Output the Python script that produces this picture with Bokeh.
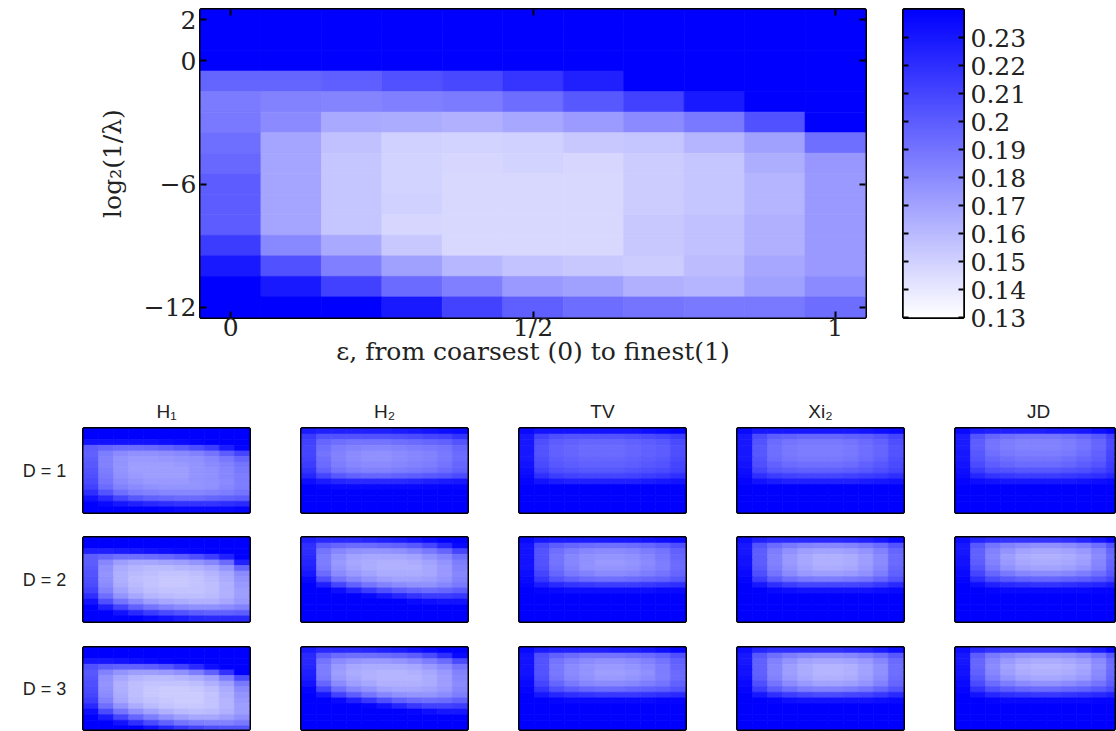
import numpy as np
from bokeh.plotting import figure
from bokeh.layouts import row, column
from bokeh.models import (LinearColorMapper, FixedTicker, Spacer, LinearAxis,
                          ColumnDataSource, Range1d, NumeralTickFormatter)
from bokeh.transform import transform
from bokeh.embed import file_html
from bokeh.resources import INLINE
from bokeh.core.properties import value

# ---------------- data ----------------
eps = [0.0, 0.1, 0.2, 0.3, 0.4, 0.5, 0.6, 0.7, 0.8, 0.9, 1.0]
log_inv_lambda = [2, 1, 0, -1, -2, -3, -4, -5, -6, -7, -8, -9, -10, -11, -12]
x_ticks = [0, 0.5, 1]
x_tick_labels = {0: "0", 0.5: "1/2", 1: "1"}
y_ticks = [2, 0, -6, -12]
cb_ticks = [0.13, 0.14, 0.15, 0.16, 0.17, 0.18, 0.19, 0.2, 0.21, 0.22, 0.23]

# main heat map, rows from log2(1/lambda)=2 (top) down to -12
main_vals = [
    [0.250, 0.250, 0.250, 0.250, 0.250, 0.250, 0.250, 0.250, 0.250, 0.250, 0.250],
    [0.250, 0.250, 0.250, 0.250, 0.250, 0.250, 0.250, 0.250, 0.250, 0.250, 0.250],
    [0.245, 0.245, 0.245, 0.245, 0.245, 0.245, 0.245, 0.245, 0.245, 0.245, 0.245],
    [0.197, 0.197, 0.199, 0.205, 0.209, 0.217, 0.226, 0.242, 0.244, 0.245, 0.245],
    [0.187, 0.184, 0.183, 0.185, 0.187, 0.193, 0.202, 0.212, 0.229, 0.242, 0.244],
    [0.188, 0.180, 0.167, 0.166, 0.164, 0.168, 0.173, 0.180, 0.188, 0.205, 0.241],
    [0.192, 0.169, 0.157, 0.150, 0.149, 0.150, 0.154, 0.155, 0.162, 0.171, 0.192],
    [0.195, 0.169, 0.155, 0.149, 0.148, 0.149, 0.148, 0.152, 0.155, 0.165, 0.175],
    [0.200, 0.169, 0.155, 0.149, 0.147, 0.147, 0.147, 0.152, 0.155, 0.162, 0.174],
    [0.200, 0.169, 0.155, 0.150, 0.147, 0.147, 0.147, 0.152, 0.155, 0.162, 0.174],
    [0.200, 0.169, 0.155, 0.148, 0.147, 0.147, 0.147, 0.154, 0.157, 0.164, 0.174],
    [0.214, 0.181, 0.167, 0.154, 0.147, 0.147, 0.147, 0.154, 0.157, 0.164, 0.174],
    [0.229, 0.205, 0.185, 0.171, 0.161, 0.156, 0.154, 0.152, 0.159, 0.168, 0.174],
    [0.241, 0.229, 0.212, 0.194, 0.185, 0.174, 0.171, 0.164, 0.162, 0.171, 0.180],
    [0.246, 0.243, 0.240, 0.229, 0.211, 0.199, 0.193, 0.190, 0.188, 0.188, 0.193],
]

measures = ["H₁", "H₂", "TV", "Xi₂", "JD"]
dims = ["D = 1", "D = 2", "D = 3"]

# small multiples, values x1000, rows top (2) to bottom (-12)
H1_D1 = [
    [240, 240, 240, 240, 240, 240, 240, 240, 240, 240, 240],
    [240, 240, 240, 240, 240, 240, 240, 240, 240, 240, 240],
    [232, 232, 232, 232, 232, 234, 236, 238, 240, 240, 240],
    [200, 196, 194, 194, 195, 198, 202, 208, 214, 228, 238],
    [198, 186, 180, 178, 178, 179, 181, 184, 190, 200, 210],
    [200, 184, 176, 174, 174, 175, 176, 178, 182, 188, 196],
    [202, 184, 176, 172, 172, 172, 174, 176, 180, 184, 190],
    [204, 186, 176, 172, 172, 172, 172, 176, 178, 182, 188],
    [206, 188, 178, 174, 172, 172, 172, 176, 178, 182, 186],
    [208, 190, 180, 176, 174, 174, 174, 176, 178, 180, 186],
    [212, 194, 184, 180, 178, 176, 176, 176, 178, 182, 186],
    [220, 204, 192, 186, 184, 182, 182, 182, 184, 186, 190],
    [232, 222, 210, 202, 198, 196, 194, 194, 196, 198, 200],
    [240, 236, 230, 226, 222, 220, 218, 218, 218, 220, 222],
    [240, 240, 240, 240, 240, 238, 236, 236, 236, 236, 238],
]
H2_D1 = [
    [228, 226, 226, 226, 226, 226, 228, 230, 232, 234, 236],
    [215, 205, 205, 205, 205, 205, 206, 208, 210, 212, 218],
    [212, 196, 192, 190, 190, 190, 192, 194, 196, 198, 204],
    [210, 192, 186, 184, 182, 182, 184, 186, 188, 190, 196],
    [210, 190, 184, 180, 178, 178, 180, 182, 184, 188, 194],
    [212, 192, 184, 180, 178, 178, 180, 182, 184, 188, 194],
    [214, 194, 186, 182, 180, 180, 182, 184, 186, 190, 196],
    [218, 198, 190, 186, 184, 184, 186, 188, 190, 194, 198],
    [224, 210, 202, 198, 196, 196, 198, 200, 202, 204, 208],
    [234, 228, 224, 222, 222, 222, 222, 224, 226, 228, 230],
    [240, 238, 236, 236, 236, 236, 236, 236, 237, 238, 238],
    [240, 240, 240, 240, 240, 240, 240, 240, 240, 240, 240],
    [240, 240, 240, 240, 240, 240, 240, 240, 240, 240, 240],
    [240, 240, 240, 240, 240, 240, 240, 240, 240, 240, 240],
    [240, 240, 240, 240, 240, 240, 240, 240, 240, 240, 240],
]
TV_D1 = [
    [236, 232, 232, 232, 232, 232, 232, 232, 234, 236, 238],
    [230, 212, 206, 204, 204, 204, 204, 206, 208, 210, 214],
    [230, 206, 200, 198, 196, 196, 196, 198, 200, 202, 208],
    [230, 204, 198, 196, 194, 194, 194, 196, 198, 200, 206],
    [230, 204, 198, 196, 194, 194, 194, 196, 198, 200, 206],
    [230, 206, 200, 198, 196, 196, 196, 198, 200, 202, 208],
    [232, 208, 202, 200, 198, 198, 198, 200, 202, 204, 210],
    [234, 212, 206, 204, 202, 202, 202, 204, 206, 208, 212],
    [236, 220, 214, 212, 210, 210, 210, 212, 214, 216, 220],
    [238, 232, 228, 226, 226, 226, 226, 226, 228, 230, 232],
    [240, 240, 240, 240, 240, 240, 240, 240, 240, 240, 240],
    [240, 240, 240, 240, 240, 240, 240, 240, 240, 240, 240],
    [240, 240, 240, 240, 240, 240, 240, 240, 240, 240, 240],
    [240, 240, 240, 240, 240, 240, 240, 240, 240, 240, 240],
    [240, 240, 240, 240, 240, 240, 240, 240, 240, 240, 240],
]
XI2_D1 = [
    [236, 230, 230, 230, 230, 230, 230, 230, 232, 234, 236],
    [230, 208, 200, 198, 196, 196, 196, 198, 200, 204, 210],
    [230, 204, 194, 190, 188, 188, 188, 190, 194, 198, 206],
    [230, 202, 192, 188, 186, 186, 186, 188, 192, 196, 204],
    [230, 202, 192, 188, 186, 186, 186, 188, 192, 196, 204],
    [230, 204, 194, 190, 188, 188, 188, 190, 194, 198, 206],
    [232, 206, 198, 194, 192, 192, 192, 194, 198, 202, 208],
    [234, 210, 202, 200, 198, 198, 198, 200, 202, 206, 210],
    [236, 220, 214, 212, 210, 210, 210, 212, 214, 216, 220],
    [238, 232, 228, 226, 226, 226, 226, 226, 228, 230, 232],
    [240, 240, 240, 240, 240, 240, 240, 240, 240, 240, 240],
    [240, 240, 240, 240, 240, 240, 240, 240, 240, 240, 240],
    [240, 240, 240, 240, 240, 240, 240, 240, 240, 240, 240],
    [240, 240, 240, 240, 240, 240, 240, 240, 240, 240, 240],
    [240, 240, 240, 240, 240, 240, 240, 240, 240, 240, 240],
]
JD_D1 = [
    [236, 228, 226, 226, 226, 226, 228, 228, 230, 234, 238],
    [228, 204, 196, 192, 190, 190, 190, 192, 196, 202, 212],
    [228, 200, 190, 186, 184, 184, 184, 186, 190, 196, 208],
    [228, 200, 190, 186, 184, 184, 184, 186, 190, 196, 208],
    [230, 202, 192, 188, 186, 186, 186, 188, 192, 198, 210],
    [230, 204, 196, 192, 190, 190, 190, 192, 196, 200, 212],
    [232, 208, 200, 196, 194, 194, 194, 196, 200, 204, 214],
    [234, 214, 206, 204, 202, 202, 202, 204, 206, 210, 216],
    [236, 224, 218, 216, 214, 214, 214, 216, 218, 220, 224],
    [238, 234, 232, 230, 230, 230, 230, 230, 232, 234, 236],
    [240, 240, 240, 240, 240, 240, 240, 240, 240, 240, 240],
    [240, 240, 240, 240, 240, 240, 240, 240, 240, 240, 240],
    [240, 240, 240, 240, 240, 240, 240, 240, 240, 240, 240],
    [240, 240, 240, 240, 240, 240, 240, 240, 240, 240, 240],
    [240, 240, 240, 240, 240, 240, 240, 240, 240, 240, 240],
]
H1_D2 = [
    [240, 240, 240, 240, 240, 240, 240, 240, 240, 240, 240],
    [240, 240, 240, 240, 240, 240, 240, 240, 240, 240, 240],
    [226, 226, 228, 230, 232, 234, 236, 238, 240, 240, 240],
    [200, 196, 192, 192, 194, 196, 200, 206, 214, 226, 240],
    [200, 182, 172, 168, 168, 170, 172, 176, 182, 194, 226],
    [202, 178, 166, 162, 160, 160, 162, 164, 168, 176, 196],
    [204, 176, 164, 160, 158, 156, 156, 158, 162, 168, 180],
    [206, 178, 164, 158, 156, 154, 154, 156, 160, 166, 176],
    [208, 180, 166, 160, 156, 154, 154, 156, 158, 164, 174],
    [212, 184, 170, 162, 158, 156, 156, 156, 158, 164, 172],
    [220, 192, 176, 168, 162, 160, 158, 158, 160, 164, 172],
    [232, 206, 190, 180, 172, 168, 166, 164, 164, 168, 174],
    [240, 226, 210, 198, 190, 184, 180, 178, 178, 180, 184],
    [240, 240, 232, 222, 214, 208, 204, 200, 198, 198, 200],
    [240, 240, 240, 240, 236, 232, 228, 224, 222, 222, 222],
]
H2_D2 = [
    [226, 222, 222, 222, 224, 226, 228, 232, 236, 240, 240],
    [220, 200, 196, 194, 194, 196, 198, 202, 210, 222, 236],
    [220, 190, 182, 178, 176, 176, 178, 182, 188, 196, 210],
    [222, 186, 176, 170, 168, 168, 168, 170, 176, 182, 192],
    [224, 186, 174, 168, 166, 164, 164, 166, 170, 176, 186],
    [226, 188, 176, 170, 166, 164, 164, 164, 168, 174, 184],
    [230, 194, 180, 174, 170, 166, 166, 166, 168, 174, 182],
    [236, 206, 190, 182, 176, 172, 170, 170, 172, 176, 184],
    [240, 226, 210, 198, 190, 184, 180, 178, 178, 182, 188],
    [240, 240, 234, 224, 214, 206, 200, 196, 194, 196, 200],
    [240, 240, 240, 240, 236, 230, 224, 218, 214, 214, 216],
    [240, 240, 240, 240, 240, 240, 240, 236, 234, 232, 232],
    [240, 240, 240, 240, 240, 240, 240, 240, 240, 240, 240],
    [240, 240, 240, 240, 240, 240, 240, 240, 240, 240, 240],
    [240, 240, 240, 240, 240, 240, 240, 240, 240, 240, 240],
]
TV_D2 = [
    [236, 230, 228, 228, 228, 228, 230, 230, 232, 234, 236],
    [232, 208, 200, 196, 194, 192, 192, 194, 196, 200, 206],
    [232, 204, 192, 186, 182, 180, 180, 182, 186, 190, 198],
    [232, 204, 190, 182, 178, 176, 176, 178, 182, 188, 196],
    [232, 204, 190, 182, 178, 174, 174, 176, 180, 186, 194],
    [232, 206, 192, 184, 178, 176, 176, 178, 182, 186, 194],
    [234, 210, 196, 188, 184, 180, 180, 182, 186, 190, 196],
    [236, 216, 204, 198, 194, 192, 192, 194, 196, 198, 202],
    [238, 228, 222, 218, 216, 214, 214, 214, 216, 218, 220],
    [240, 238, 236, 234, 234, 234, 234, 234, 234, 236, 236],
    [240, 240, 240, 240, 240, 240, 240, 240, 240, 240, 240],
    [240, 240, 240, 240, 240, 240, 240, 240, 240, 240, 240],
    [240, 240, 240, 240, 240, 240, 240, 240, 240, 240, 240],
    [240, 240, 240, 240, 240, 240, 240, 240, 240, 240, 240],
    [240, 240, 240, 240, 240, 240, 240, 240, 240, 240, 240],
]
XI2_D2 = [
    [234, 226, 222, 222, 222, 222, 222, 224, 226, 230, 236],
    [230, 204, 194, 188, 184, 182, 182, 184, 188, 194, 204],
    [230, 200, 186, 178, 172, 170, 170, 172, 176, 184, 196],
    [232, 200, 184, 174, 168, 164, 164, 166, 172, 180, 194],
    [232, 200, 184, 174, 168, 164, 164, 166, 172, 180, 194],
    [234, 202, 186, 176, 170, 166, 166, 168, 174, 182, 196],
    [236, 206, 190, 180, 174, 172, 172, 174, 178, 186, 198],
    [238, 214, 200, 192, 188, 186, 186, 188, 190, 196, 204],
    [240, 230, 220, 214, 210, 210, 210, 210, 212, 216, 222],
    [240, 240, 236, 234, 232, 232, 232, 232, 232, 234, 236],
    [240, 240, 240, 240, 240, 240, 240, 240, 240, 240, 240],
    [240, 240, 240, 240, 240, 240, 240, 240, 240, 240, 240],
    [240, 240, 240, 240, 240, 240, 240, 240, 240, 240, 240],
    [240, 240, 240, 240, 240, 240, 240, 240, 240, 240, 240],
    [240, 240, 240, 240, 240, 240, 240, 240, 240, 240, 240],
]
JD_D2 = [
    [234, 224, 220, 218, 218, 218, 218, 220, 224, 230, 236],
    [230, 202, 190, 184, 180, 178, 178, 180, 184, 192, 204],
    [230, 198, 184, 176, 170, 168, 168, 170, 174, 182, 196],
    [232, 198, 182, 172, 166, 164, 164, 166, 170, 180, 194],
    [232, 200, 184, 174, 168, 166, 166, 168, 172, 182, 196],
    [234, 204, 188, 178, 172, 170, 170, 172, 176, 184, 198],
    [236, 210, 196, 188, 182, 180, 180, 182, 186, 192, 202],
    [238, 220, 208, 202, 198, 196, 196, 198, 200, 204, 210],
    [240, 234, 226, 222, 220, 218, 218, 220, 222, 224, 228],
    [240, 240, 238, 236, 236, 236, 236, 236, 236, 238, 238],
    [240, 240, 240, 240, 240, 240, 240, 240, 240, 240, 240],
    [240, 240, 240, 240, 240, 240, 240, 240, 240, 240, 240],
    [240, 240, 240, 240, 240, 240, 240, 240, 240, 240, 240],
    [240, 240, 240, 240, 240, 240, 240, 240, 240, 240, 240],
    [240, 240, 240, 240, 240, 240, 240, 240, 240, 240, 240],
]
H1_D3 = [
    [240, 240, 240, 240, 240, 240, 240, 240, 240, 240, 240],
    [240, 240, 240, 240, 240, 240, 240, 240, 240, 240, 240],
    [230, 230, 232, 234, 236, 238, 240, 240, 240, 240, 240],
    [206, 200, 198, 198, 200, 204, 212, 222, 234, 240, 240],
    [202, 184, 176, 172, 172, 174, 178, 186, 198, 218, 240],
    [204, 178, 168, 162, 160, 160, 162, 166, 172, 186, 208],
    [206, 176, 164, 158, 156, 156, 156, 158, 164, 172, 188],
    [208, 178, 164, 158, 154, 152, 152, 154, 158, 166, 180],
    [210, 180, 166, 158, 154, 152, 152, 152, 156, 164, 176],
    [214, 184, 168, 160, 156, 154, 152, 152, 156, 162, 174],
    [222, 192, 176, 166, 160, 156, 154, 154, 156, 162, 172],
    [234, 208, 190, 178, 170, 164, 160, 158, 160, 164, 172],
    [240, 228, 210, 196, 186, 178, 172, 168, 168, 172, 178],
    [240, 240, 232, 220, 208, 198, 190, 186, 184, 184, 188],
    [240, 240, 240, 240, 232, 224, 216, 210, 206, 204, 204],
]
H2_D3 = [
    [228, 222, 222, 222, 224, 226, 228, 232, 236, 240, 240],
    [222, 200, 194, 192, 192, 194, 196, 200, 208, 220, 236],
    [222, 190, 180, 176, 174, 174, 176, 180, 186, 194, 208],
    [224, 186, 174, 168, 166, 166, 166, 168, 174, 180, 190],
    [226, 186, 172, 166, 164, 162, 162, 164, 168, 174, 184],
    [228, 188, 174, 168, 164, 162, 162, 162, 166, 172, 182],
    [232, 196, 180, 172, 168, 164, 164, 164, 166, 172, 180],
    [238, 210, 192, 182, 176, 170, 168, 168, 170, 174, 182],
    [240, 230, 212, 200, 190, 182, 178, 176, 176, 180, 186],
    [240, 240, 236, 226, 216, 206, 198, 194, 192, 194, 198],
    [240, 240, 240, 240, 238, 232, 224, 216, 212, 212, 214],
    [240, 240, 240, 240, 240, 240, 240, 238, 234, 230, 230],
    [240, 240, 240, 240, 240, 240, 240, 240, 240, 240, 240],
    [240, 240, 240, 240, 240, 240, 240, 240, 240, 240, 240],
    [240, 240, 240, 240, 240, 240, 240, 240, 240, 240, 240],
]
TV_D3 = [
    [236, 228, 226, 226, 226, 226, 228, 228, 230, 234, 238],
    [232, 206, 198, 194, 190, 190, 190, 192, 194, 198, 206],
    [232, 204, 190, 184, 180, 178, 178, 180, 184, 190, 198],
    [232, 204, 188, 180, 176, 174, 174, 176, 180, 186, 196],
    [232, 204, 188, 180, 176, 172, 172, 174, 178, 186, 194],
    [234, 206, 190, 182, 178, 174, 174, 176, 180, 186, 194],
    [236, 210, 196, 188, 182, 180, 180, 182, 186, 190, 198],
    [238, 218, 206, 200, 196, 194, 194, 196, 198, 200, 204],
    [240, 230, 224, 220, 218, 216, 216, 216, 218, 220, 222],
    [240, 240, 238, 236, 236, 236, 236, 236, 236, 238, 238],
    [240, 240, 240, 240, 240, 240, 240, 240, 240, 240, 240],
    [240, 240, 240, 240, 240, 240, 240, 240, 240, 240, 240],
    [240, 240, 240, 240, 240, 240, 240, 240, 240, 240, 240],
    [240, 240, 240, 240, 240, 240, 240, 240, 240, 240, 240],
    [240, 240, 240, 240, 240, 240, 240, 240, 240, 240, 240],
]
XI2_D3 = [
    [234, 224, 220, 220, 220, 220, 220, 222, 224, 228, 234],
    [230, 202, 192, 186, 182, 180, 180, 182, 186, 192, 202],
    [230, 198, 184, 176, 170, 168, 168, 170, 174, 182, 194],
    [232, 198, 182, 172, 166, 162, 162, 164, 170, 178, 192],
    [232, 198, 182, 172, 166, 162, 162, 164, 170, 178, 192],
    [234, 200, 184, 174, 168, 164, 164, 166, 172, 180, 194],
    [236, 206, 190, 180, 174, 170, 170, 172, 176, 184, 196],
    [238, 214, 200, 192, 186, 184, 184, 186, 190, 196, 204],
    [240, 230, 220, 214, 210, 208, 208, 210, 212, 216, 222],
    [240, 240, 238, 234, 232, 232, 232, 232, 232, 234, 236],
    [240, 240, 240, 240, 240, 240, 240, 240, 240, 240, 240],
    [240, 240, 240, 240, 240, 240, 240, 240, 240, 240, 240],
    [240, 240, 240, 240, 240, 240, 240, 240, 240, 240, 240],
    [240, 240, 240, 240, 240, 240, 240, 240, 240, 240, 240],
    [240, 240, 240, 240, 240, 240, 240, 240, 240, 240, 240],
]
JD_D3 = [
    [234, 222, 218, 216, 216, 216, 216, 218, 222, 228, 236],
    [230, 200, 188, 182, 178, 176, 176, 178, 182, 190, 202],
    [230, 196, 182, 174, 168, 166, 166, 168, 172, 180, 194],
    [232, 196, 180, 170, 164, 162, 162, 164, 168, 178, 192],
    [232, 198, 182, 172, 166, 164, 164, 166, 170, 180, 194],
    [234, 202, 186, 176, 170, 168, 168, 170, 174, 182, 196],
    [236, 208, 194, 186, 180, 178, 178, 180, 184, 190, 200],
    [238, 218, 206, 200, 196, 194, 194, 196, 198, 202, 208],
    [240, 232, 224, 220, 218, 216, 216, 218, 220, 222, 226],
    [240, 240, 238, 236, 236, 236, 236, 236, 236, 238, 238],
    [240, 240, 240, 240, 240, 240, 240, 240, 240, 240, 240],
    [240, 240, 240, 240, 240, 240, 240, 240, 240, 240, 240],
    [240, 240, 240, 240, 240, 240, 240, 240, 240, 240, 240],
    [240, 240, 240, 240, 240, 240, 240, 240, 240, 240, 240],
    [240, 240, 240, 240, 240, 240, 240, 240, 240, 240, 240],
]

small_grid = [
    [H1_D1, H2_D1, TV_D1, XI2_D1, JD_D1],
    [H1_D2, H2_D2, TV_D2, XI2_D2, JD_D2],
    [H1_D3, H2_D3, TV_D3, XI2_D3, JD_D3],
]

# ---------------- styling helpers ----------------
palette = ["#%02x%02xff" % (255 - i, 255 - i) for i in range(256)]
mapper = LinearColorMapper(palette=palette, low=0.13, high=0.24)
SERIF = "DejaVu Serif"
SANS = "Liberation Sans"
TXT = "#222222"


def heat_source(vals, scale=1.0):
    xs, ys, vs = [], [], []
    for i, yv in enumerate(log_inv_lambda):
        for j, xv in enumerate(eps):
            xs.append(xv)
            ys.append(yv)
            vs.append(vals[i][j] * scale)
    return ColumnDataSource(dict(x=xs, y=ys, v=vs))


def draw_heat(fig, src):
    fig.rect("x", "y", width=0.1, height=1, source=src,
             fill_color=transform("v", mapper), line_color=transform("v", mapper),
             line_width=0.7)


def style_ax(ax, labels=True):
    ax.major_tick_in = 6
    ax.major_tick_out = 0
    ax.minor_tick_line_color = None
    ax.axis_line_color = None
    ax.major_tick_line_color = "black"
    ax.major_tick_line_width = 2
    if labels:
        ax.major_label_text_font = SERIF
        ax.major_label_text_font_size = "25px"
        ax.major_label_text_color = TXT
        ax.major_label_standoff = 2
    else:
        # tick marks only: labels are not painted
        ax.major_label_text_font_size = "1px"
        ax.major_label_text_color = None
        ax.major_label_standoff = 0


# ---------------- main heat map ----------------
p = figure(x_range=Range1d(-0.05, 1.05), y_range=Range1d(-12.5, 2.5),
           frame_width=665, frame_height=308,
           min_border_left=200, min_border_right=8, min_border_top=9, min_border_bottom=60,
           output_backend="svg", toolbar_location=None)
p.grid.visible = False
p.outline_line_color = "black"
p.outline_line_width = 3
p.outline_line_alpha = 1
draw_heat(p, heat_source(main_vals))

p.xaxis.ticker = FixedTicker(ticks=x_ticks)
p.xaxis.major_label_overrides = x_tick_labels
p.yaxis.ticker = FixedTicker(ticks=y_ticks)
style_ax(p.xaxis[0])
style_ax(p.yaxis[0])
p.xaxis.major_label_standoff = -5
p.yaxis.major_label_standoff = 4
p.xaxis.axis_label = "ε, from coarsest (0) to finest(1)"
p.xaxis.axis_label_text_font = SERIF
p.xaxis.axis_label_text_font_size = "25px"
p.xaxis.axis_label_text_font_style = "normal"
p.xaxis.axis_label_text_color = TXT
p.xaxis.axis_label_standoff = -8
p.yaxis.axis_label = "log₂(1/λ)"
p.yaxis.axis_label_text_font = SERIF
p.yaxis.axis_label_text_font_size = "25px"
p.yaxis.axis_label_text_font_style = "normal"
p.yaxis.axis_label_text_color = TXT
p.yaxis.axis_label_standoff = 14

top_ax = LinearAxis(ticker=FixedTicker(ticks=x_ticks))
style_ax(top_ax, labels=False)
p.add_layout(top_ax, "above")
right_ax = LinearAxis(ticker=FixedTicker(ticks=y_ticks))
style_ax(right_ax, labels=False)
p.add_layout(right_ax, "right")

# ---------------- colour bar ----------------
cb = figure(x_range=Range1d(0, 1), y_range=Range1d(mapper.low, mapper.high),
            frame_width=60, frame_height=308,
            min_border_left=30, min_border_right=100, min_border_top=9, min_border_bottom=20,
            x_axis_location=None, y_axis_location="right",
            output_backend="svg", toolbar_location=None)
cb.grid.visible = False
cb.outline_line_color = "black"
cb.outline_line_width = 3
grad = np.linspace(mapper.low, mapper.high, 256).reshape(256, 1)
cb.image(image=[grad], x=0, y=mapper.low, dw=1, dh=mapper.high - mapper.low,
         color_mapper=mapper)
cb.yaxis.ticker = FixedTicker(ticks=cb_ticks)
cb.yaxis.formatter = NumeralTickFormatter(format="0.[00]")
style_ax(cb.yaxis[0])
cb.yaxis.major_tick_in = 5
cb.yaxis.major_label_standoff = 7
cb_left = LinearAxis(ticker=FixedTicker(ticks=cb_ticks))
style_ax(cb_left, labels=False)
cb_left.major_tick_in = 5
cb.add_layout(cb_left, "left")

top_row = row(p, cb)

# ---------------- small multiples ----------------
PW, PH = 166, 84          # full panel frame size
B = 2                     # border around each panel frame
GAP = 48
LABW = 81
JDW = 159                 # visible frame width of the last column (page edge)
row_heights = [84, 84, 82]   # visible frame heights (last row cut by page edge)


def text_fig(w, h, txt, x, y, size="18px"):
    f = figure(x_range=Range1d(0, w), y_range=Range1d(0, h), width=w, height=h,
               min_border=0, x_axis_location=None, y_axis_location=None,
               output_backend="svg", toolbar_location=None)
    f.grid.visible = False
    f.outline_line_color = None
    f.text(x=[x], y=[y], text=[txt], text_font=value(SANS), text_font_size=size,
           text_color=TXT, text_align="center", text_baseline="middle")
    return f


def panel(vals, last_col, fh):
    fw = JDW if last_col else PW
    x_end = -0.05 + 1.1 * fw / PW
    y_start = 2.5 - 15.0 * fh / PH
    f = figure(x_range=Range1d(-0.05, x_end), y_range=Range1d(y_start, 2.5),
               frame_width=fw, frame_height=fh, min_border=B,
               x_axis_location=None, y_axis_location=None,
               output_backend="svg", toolbar_location=None)
    f.grid.visible = False
    f.outline_line_color = "black"
    f.outline_line_width = 3
    draw_heat(f, heat_source(vals, 0.001))
    return f


# title row
TH = 30
tchildren = [Spacer(width=LABW, height=TH)]
for k, m in enumerate(measures):
    w = (JDW + 2 * B) if k == 4 else (PW + 2 * B)
    tchildren.append(text_fig(w, TH, m, B + PW / 2, 15, size="19px"))
    if k < 4:
        tchildren.append(Spacer(width=GAP, height=TH))
title_row = row(*tchildren)

panel_rows = []
for r, d in enumerate(dims):
    fh = row_heights[r]
    h = fh + 2 * B
    children = [text_fig(LABW, h, d, 44, h - (B + PH / 2))]
    for k in range(5):
        children.append(panel(small_grid[r][k], k == 4, fh))
        if k < 4:
            children.append(Spacer(width=GAP, height=h))
    panel_rows.append(row(*children))

layout = column(top_row, Spacer(width=10, height=19), title_row,
                panel_rows[0], Spacer(width=10, height=21),
                panel_rows[1], Spacer(width=10, height=22),
                panel_rows[2])

open("out.html", "w").write(file_html(layout, INLINE))
